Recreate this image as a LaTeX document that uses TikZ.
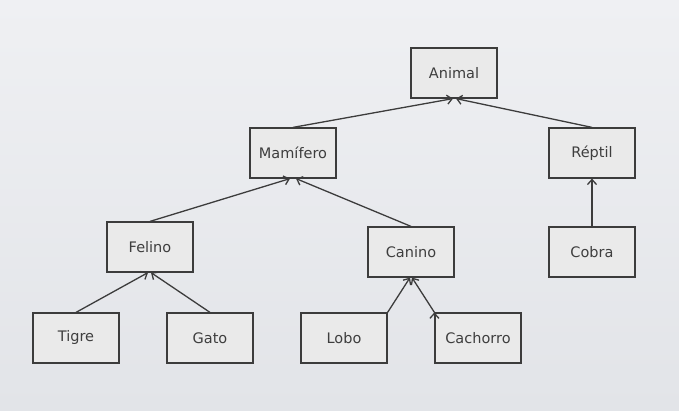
\documentclass[tikz,border=0pt]{standalone}
\usepackage{fontspec}
\setsansfont{DejaVu Sans}
\usetikzlibrary{positioning, arrows.meta}

\definecolor{bgtop}{HTML}{EFF0F3}
\definecolor{bgbot}{HTML}{E2E4E8}
\definecolor{boxfill}{HTML}{EAEAEA}
\definecolor{boxline}{HTML}{3C3C3C}
\definecolor{boxtext}{HTML}{3E3E3E}

\begin{document}
\begin{tikzpicture}[->,
>={Straight Barb[length=5pt, width=9pt]},
auto,
line width=1.3pt,
x=1pt, y=1pt,
block/.style={draw=boxline, fill=boxfill, line width=1.2pt, rectangle, minimum width=86pt, minimum height=50pt, text=boxtext, font=\sffamily\fontsize{14.5}{17}\selectfont}]

% background
\fill[top color=bgtop, bottom color=bgbot] (0,0) rectangle (679,411);
\useasboundingbox (0,0) rectangle (679,411);

\node[block]		(animal)		at (454,338)	{Animal};
\node[block]		(mamifero)		at (293,258)	{Mamífero};
\node[block]		(reptil)		at (592,258)	{Réptil};
\node[block]		(felino)		at (150,164)	{Felino};
\node[block]		(canino)		at (411,159)	{Canino};
\node[block]		(cobra)			at (592,159)	{Cobra};
\node[block]		(tigre)			at (76,73)		{Tigre};
\node[block]		(gato)			at (210,73)		{Gato};
\node[block]		(lobo)			at (344,73)		{Lobo};
\node[block]		(cachorro)		at (478,73)		{Cachorro};

\path[->, draw=boxline]
 (mamifero.north) edge ([xshift=-1pt]animal.south)
 (reptil.north) edge ([xshift=2pt]animal.south)
 (felino.north) edge ([xshift=-3pt]mamifero.south)
 (canino.north) edge ([xshift=3pt]mamifero.south)
 (cobra) edge (reptil)
 (tigre.north) edge ([xshift=-2pt]felino.south)
 (gato.north) edge ([xshift=1pt]felino.south)
 (lobo.north east) edge ([xshift=-1pt]canino.south)
 (cachorro.north west) edge ([xshift=1pt]canino.south);

\end{tikzpicture}
\end{document}
